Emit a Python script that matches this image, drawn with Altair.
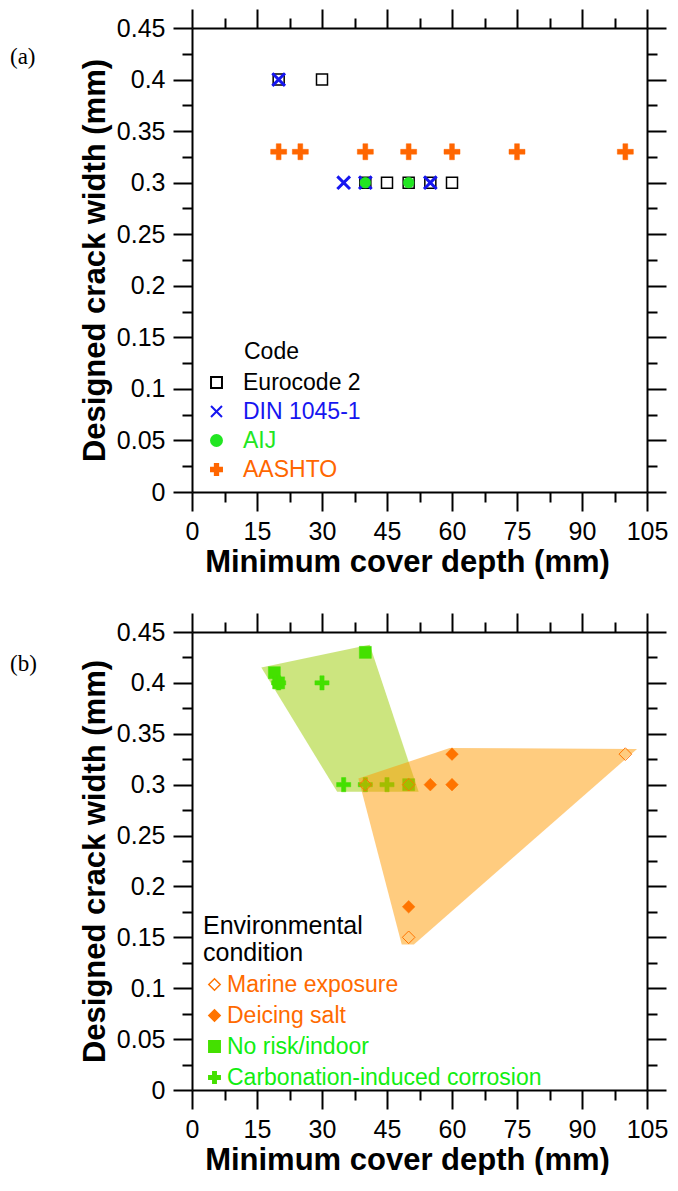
import altair as alt
import pandas as pd

# ---------------- panel (a): design codes ----------------
code_names = ["Eurocode 2", "DIN 1045-1", "AIJ", "AASHTO"]
euro_x = [20, 30, 40, 45, 50, 55, 60]
euro_y = [0.40, 0.40, 0.30, 0.30, 0.30, 0.30, 0.30]
din_x = [20, 35, 40, 55]
din_y = [0.40, 0.30, 0.30, 0.30]
aij_x = [40, 50]
aij_y = [0.30, 0.30]
aashto_x = [20, 25, 40, 50, 60, 75, 100]
aashto_y = [0.33, 0.33, 0.33, 0.33, 0.33, 0.33, 0.33]

# ---------------- panel (b): environmental condition ----------------
cond_names = ["Marine exposure", "Deicing salt", "No risk/indoor",
              "Carbonation-induced corrosion"]
marine_x = [40, 50, 50, 100]
marine_y = [0.30, 0.30, 0.15, 0.33]
deicing_x = [50, 55, 60, 60]
deicing_y = [0.18, 0.30, 0.30, 0.33]
norisk_x = [19, 20, 40, 50]
norisk_y = [0.41, 0.40, 0.43, 0.30]
carb_x = [20, 30, 35, 40, 45]
carb_y = [0.40, 0.40, 0.30, 0.30, 0.30]

green_zone_x = [16.0, 41.0, 52.3, 33.5]
green_zone_y = [0.415, 0.4375, 0.293, 0.293]
orange_zone_x = [38.4, 59.5, 102.7, 51.2, 48.4]
orange_zone_y = [0.306, 0.336, 0.335, 0.143, 0.143]

# ---------------- ticks and texts ----------------
x_major = [0, 15, 30, 45, 60, 75, 90, 105]
x_minor = [7.5, 22.5, 37.5, 52.5, 67.5, 82.5, 97.5]
y_major = [0, 0.05, 0.1, 0.15, 0.2, 0.25, 0.3, 0.35, 0.4, 0.45]
y_minor = [0.025, 0.075, 0.125, 0.175, 0.225, 0.275, 0.325, 0.375, 0.425]
panel_labels = ["(a)", "(b)"]
legend_a_title = "Code"
legend_b_title = ["Environmental", "condition"]
x_title = "Minimum cover depth (mm)"
y_title = "Designed crack width (mm)"

FONT = "Liberation Sans"
W = 455
HA = 464
HB = 458
MAJ, MIN = 19, 10

BLUE = "#1616f0"
GREEN_A = "#22e622"
ORANGE_A = "#ff6600"
ORANGE_B = "#ff7400"
GREEN_B = "#44e000"
TXT_GREEN = "#11ee11"
TXT_ORANGE = "#ff6a00"

X_PATH = "M-1,-1L1,1M-1,1L1,-1"
PLUS_PATH = "M-0.3,-1H0.3V-0.3H1V0.3H0.3V1H-0.3V0.3H-1V-0.3H-0.3Z"


def xscale():
    return alt.Scale(domain=[0, 105], nice=False, zero=False)


def yscale():
    return alt.Scale(domain=[0, 0.45], nice=False, zero=False)


def axis_layers(df):
    common = dict(grid=False, tickColor="black", tickWidth=2,
                  domainColor="black", domainWidth=2, labelFlush=False,
                  labelOverlap=False)
    specs = [
        (alt.Axis(orient="bottom", values=x_major, tickSize=MAJ, domain=True,
                  labels=True, format="d", labelFont=FONT, labelFontSize=25,
                  labelColor="black", labelPadding=8, title=x_title,
                  titleFont=FONT, titleFontSize=31, titleFontWeight="bold",
                  titleColor="black", titlePadding=3, titleX=215, **common),
         alt.Axis(orient="left", values=y_major, tickSize=MAJ, domain=True,
                  labels=True, format="~g", labelFont=FONT, labelFontSize=25,
                  labelColor="black", labelPadding=8, title=y_title,
                  titleFont=FONT, titleFontSize=31, titleFontWeight="bold",
                  titleColor="black", titlePadding=5, **common)),
        (alt.Axis(orient="top", values=x_major, tickSize=MAJ, domain=True,
                  labels=False, title=None, **common),
         alt.Axis(orient="right", values=y_major, tickSize=MAJ, domain=True,
                  labels=False, title=None, **common)),
        (alt.Axis(orient="bottom", values=x_minor, tickSize=MIN, domain=False,
                  labels=False, title=None, **common),
         alt.Axis(orient="left", values=y_minor, tickSize=MIN, domain=False,
                  labels=False, title=None, **common)),
        (alt.Axis(orient="top", values=x_minor, tickSize=MIN, domain=False,
                  labels=False, title=None, **common),
         alt.Axis(orient="right", values=y_minor, tickSize=MIN, domain=False,
                  labels=False, title=None, **common)),
    ]
    out = []
    for ax_x, ax_y in specs:
        out.append(
            alt.Chart(df).mark_point(opacity=0).encode(
                x=alt.X("x:Q", scale=xscale(), axis=ax_x),
                y=alt.Y("y:Q", scale=yscale(), axis=ax_y),
            )
        )
    return out


def note(text, px, py, font, size):
    return alt.Chart(pd.DataFrame({"t": [text]})).mark_text(
        font=font, fontSize=size, align="left", baseline="middle",
        color="black"
    ).encode(x=alt.value(px), y=alt.value(py), text="t:N")


# ---------------- panel (a) ----------------
label_expr_a = ("datum.label == 'DIN 1045-1' ? '%s' : datum.label == 'AIJ' ? '%s' : "
                "datum.label == 'AASHTO' ? '%s' : 'black'") % (BLUE, GREEN_A, ORANGE_A)
leg_a = alt.Legend(orient="none", legendX=13, legendY=343, title=None,
                   labelFont=FONT, labelFontSize=23, labelLimit=500,
                   labelColor={"expr": label_expr_a}, labelOffset=15,
                   rowPadding=5, symbolStrokeWidth=2, symbolSize=120,
                   padding=0, direction="vertical")


def code_layer(name, xs_, ys_, size, sw):
    df = pd.DataFrame({"x": xs_, "y": ys_, "code": [name] * len(xs_)})
    return alt.Chart(df).mark_point(opacity=1, size=size, strokeWidth=sw).encode(
        x=alt.X("x:Q", scale=xscale(), axis=None),
        y=alt.Y("y:Q", scale=yscale(), axis=None),
        shape=alt.Shape("code:N", scale=alt.Scale(domain=code_names,
                        range=["square", X_PATH, "circle", PLUS_PATH]), legend=leg_a),
        fill=alt.Fill("code:N", scale=alt.Scale(domain=code_names,
                      range=["transparent", "transparent", GREEN_A, ORANGE_A]), legend=leg_a),
        stroke=alt.Stroke("code:N", scale=alt.Scale(domain=code_names,
                          range=["black", BLUE, GREEN_A, ORANGE_A]), legend=leg_a),
    )


df_a = pd.DataFrame({"x": euro_x + din_x + aij_x + aashto_x,
                     "y": euro_y + din_y + aij_y + aashto_y})

panel_a = alt.layer(
    *axis_layers(df_a),
    code_layer("Eurocode 2", euro_x, euro_y, 121, 1.5),
    code_layer("DIN 1045-1", din_x, din_y, 160, 3),
    code_layer("AIJ", aij_x, aij_y, 115, 0.5),
    code_layer("AASHTO", aashto_x, aashto_y, 256, 0.5),
    note(panel_labels[0], -182, 29, "Liberation Serif", 23),
    note(legend_a_title, 52, 324, FONT, 23),
).resolve_axis(x="independent", y="independent").properties(width=W, height=HA)

# ---------------- panel (b) ----------------
label_expr_b = ("(datum.label == 'Marine exposure' || datum.label == 'Deicing salt') ? '%s' : '%s'"
                % (TXT_ORANGE, TXT_GREEN))
leg_b = alt.Legend(orient="none", legendX=11, legendY=282,
                   title=legend_b_title, titleFont=FONT,
                   titleFontSize=25, titleLineHeight=27, titleFontWeight="normal",
                   titleColor="black", titlePadding=7, titleLimit=500,
                   labelFont=FONT, labelFontSize=23, labelLimit=500,
                   labelColor={"expr": label_expr_b}, labelOffset=1,
                   rowPadding=7, symbolStrokeWidth=1.5, symbolSize=130,
                   padding=0, direction="vertical")


def cond_layer(name, xs_, ys_, size, sw):
    df = pd.DataFrame({"x": xs_, "y": ys_, "cond": [name] * len(xs_)})
    return alt.Chart(df).mark_point(opacity=1, size=size, strokeWidth=sw).encode(
        x=alt.X("x:Q", scale=xscale(), axis=None),
        y=alt.Y("y:Q", scale=yscale(), axis=None),
        shape=alt.Shape("cond:N", scale=alt.Scale(domain=cond_names,
                        range=["diamond", "diamond", "square", PLUS_PATH]), legend=leg_b),
        fill=alt.Fill("cond:N", scale=alt.Scale(domain=cond_names,
                      range=["transparent", ORANGE_B, GREEN_B, GREEN_B]), legend=leg_b),
        stroke=alt.Stroke("cond:N", scale=alt.Scale(domain=cond_names,
                          range=[ORANGE_B, ORANGE_B, GREEN_B, GREEN_B]), legend=leg_b),
    )


def zone(xs_, ys_, color):
    df = pd.DataFrame({"x": xs_, "y": ys_, "i": list(range(len(xs_)))})
    return alt.Chart(df).mark_line(fill=color, fillOpacity=0.5, strokeOpacity=0,
                                   strokeWidth=0).encode(
        x=alt.X("x:Q", scale=xscale(), axis=None),
        y=alt.Y("y:Q", scale=yscale(), axis=None),
        order=alt.Order("i:Q"),
    )


df_b = pd.DataFrame({"x": marine_x + deicing_x + norisk_x + carb_x,
                     "y": marine_y + deicing_y + norisk_y + carb_y})

panel_b = alt.layer(
    *axis_layers(df_b),
    zone(green_zone_x, green_zone_y, "#99cc00"),
    cond_layer("No risk/indoor", norisk_x, norisk_y, 144, 0.5),
    cond_layer("Carbonation-induced corrosion", carb_x, carb_y, 200, 0.5),
    zone(orange_zone_x, orange_zone_y, "#ff9900"),
    cond_layer("Deicing salt", deicing_x, deicing_y, 160, 0.5),
    cond_layer("Marine exposure", marine_x, marine_y, 160, 1),
    note(panel_labels[1], -182, 32, "Liberation Serif", 23),
).resolve_axis(x="independent", y="independent").properties(width=W, height=HB)

chart = alt.vconcat(panel_a, panel_b, spacing=35).resolve_scale(
    shape="independent", fill="independent", stroke="independent"
).resolve_legend(
    shape="independent", fill="independent", stroke="independent"
).properties(
    padding={"left": 2, "top": 0, "right": 0, "bottom": 0}
).configure_view(stroke=None)

chart.save("out.html", embed_options={"renderer": "svg", "actions": False})
